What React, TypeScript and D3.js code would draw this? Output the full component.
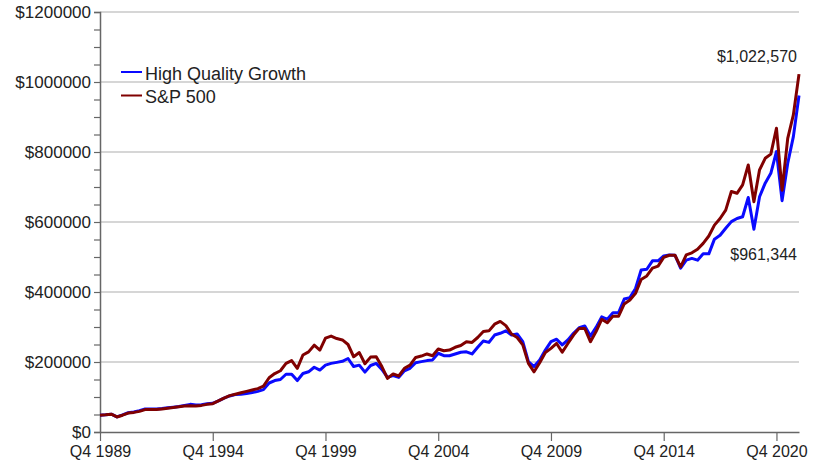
import React, { useEffect, useRef } from "react";
import * as d3 from "d3";

// quarterly portfolio values, Q4 1989 onwards (thousands of $)
const hqGrowth = [
  48, 49, 51, 43, 49, 55, 57, 61, 66, 66, 66, 67, 69, 71, 73, 76, 79, 77, 78, 81,
  82, 89, 97, 103, 107, 108, 110, 113, 116, 121, 140, 147, 150, 165, 165, 147, 167, 172, 185, 177,
  191, 196, 199, 202, 210, 187, 191, 171, 190, 196, 179, 156, 161, 156, 175, 182, 198, 201, 204, 206,
  225, 218, 218, 223, 228, 229, 223, 242, 260, 256, 277, 282, 289, 277, 280, 258, 201, 187, 206, 234,
  258, 265, 249, 263, 282, 298, 303, 274, 299, 329, 322, 341, 341, 380, 384, 410, 463, 465, 489, 489,
  503, 506, 505, 468, 491, 496, 491, 509, 509, 551, 562, 582, 601, 610, 615, 670, 579, 672, 711, 739,
  801, 661, 768, 844, 961.344,
];
const sp500 = [
  48, 49, 51, 43, 48, 54, 56, 59, 64, 64, 64, 66, 68, 70, 72, 74, 75, 74, 76, 79,
  81, 89, 97, 104, 108, 112, 116, 120, 124, 131, 155, 167, 175, 196, 204, 182, 220, 229, 248, 234,
  268, 274, 267, 263, 250, 215, 227, 195, 214, 215, 187, 153, 166, 160, 182, 191, 213, 217, 223, 218,
  237, 232, 234, 242, 247, 258, 256, 270, 287, 289, 308, 316, 304, 280, 270, 249, 196, 172, 198, 227,
  239, 253, 228, 253, 277, 296, 296, 258, 287, 322, 312, 331, 331, 366, 377, 396, 436, 446, 468, 474,
  499, 505, 505, 472, 506, 512, 522, 539, 560, 591, 610, 634, 687, 682, 706, 763, 658, 749, 782, 794,
  868, 691, 839, 906, 1022.57,
];
const tickIndex = [0, 20, 40, 60, 80, 100, 120];
const tickLabels = ["Q4 1989", "Q4 1994", "Q4 1999", "Q4 2004", "Q4 2009", "Q4 2014", "Q4 2020"];
const seriesNames = ["High Quality Growth", "S&P 500"];
const seriesColors = ["#0a0aff", "#800000"];
const endLabels = ["$961,344", "$1,022,570"];

const App = () => {
  const ref = useRef<SVGSVGElement>(null);

  useEffect(() => {
    const svg = d3.select(ref.current);
    svg.selectAll("*").remove();

    const left = 100, right = 799, top = 12, bottom = 432;
    const font = "Arial, 'Liberation Sans', sans-serif";

    const x = d3.scaleLinear().domain([0, sp500.length - 1]).range([left, right]);
    const y = d3.scaleLinear().domain([0, 1200000]).range([bottom, top]);

    // gridlines
    svg
      .append("g")
      .selectAll("line")
      .data(d3.range(200000, 1200001, 200000))
      .enter()
      .append("line")
      .attr("x1", left)
      .attr("x2", right)
      .attr("y1", (d) => y(d))
      .attr("y2", (d) => y(d))
      .attr("stroke", "#c8c8c8")
      .attr("stroke-width", 1.5);

    // y axis
    const yAxis = svg
      .append("g")
      .attr("transform", `translate(${left},0)`)
      .call(
        d3
          .axisLeft(y)
          .tickValues(d3.range(0, 1200001, 50000))
          .tickSize(6)
          .tickPadding(3)
          .tickFormat((d) => ((d as number) % 200000 === 0 ? "$" + d : ""))
      );
    yAxis.select(".domain").attr("stroke", "#666").attr("stroke-width", 1.5);
    yAxis.selectAll(".tick line").attr("stroke", "#666").attr("stroke-width", 1.2);
    yAxis
      .selectAll(".tick text")
      .attr("font-family", font)
      .attr("font-size", "17px")
      .attr("fill", "#222");

    // x axis
    const xAxis = svg
      .append("g")
      .attr("transform", `translate(0,${bottom})`)
      .call(
        d3
          .axisBottom(x)
          .tickValues(tickIndex)
          .tickSize(9)
          .tickSizeOuter(0)
          .tickPadding(5)
          .tickFormat((d, i) => tickLabels[i])
      );
    xAxis.select(".domain").attr("stroke", "#666").attr("stroke-width", 1.5);
    xAxis.selectAll(".tick line").attr("stroke", "#666").attr("stroke-width", 1.2);
    xAxis
      .selectAll(".tick text")
      .attr("font-family", font)
      .attr("font-size", "16px")
      .attr("fill", "#222");

    // lines
    const line = d3
      .line<number>()
      .x((d, i) => x(i))
      .y((d) => y(d * 1000));

    [hqGrowth, sp500].forEach((s, k) => {
      svg
        .append("path")
        .datum(s)
        .attr("d", line)
        .attr("fill", "none")
        .attr("stroke", seriesColors[k])
        .attr("stroke-width", 3)
        .attr("stroke-linejoin", "round");
    });

    // end value labels
    svg
      .append("text")
      .attr("x", 797)
      .attr("y", 260)
      .attr("text-anchor", "end")
      .attr("font-family", font)
      .attr("font-size", "16px")
      .attr("fill", "#222")
      .text(endLabels[0]);
    svg
      .append("text")
      .attr("x", 797)
      .attr("y", 61.5)
      .attr("text-anchor", "end")
      .attr("font-family", font)
      .attr("font-size", "16px")
      .attr("fill", "#222")
      .text(endLabels[1]);

    // legend
    const legend = svg.append("g");
    seriesNames.forEach((name, k) => {
      const ly = 72 + k * 23.5;
      legend
        .append("line")
        .attr("x1", 121)
        .attr("x2", 142)
        .attr("y1", ly)
        .attr("y2", ly)
        .attr("stroke", seriesColors[k])
        .attr("stroke-width", 2);
      legend
        .append("text")
        .attr("x", 145)
        .attr("y", ly + 7.5)
        .attr("font-family", font)
        .attr("font-size", "18px")
        .attr("fill", "#222")
        .text(name);
    });
  });

  return (
    <svg
      ref={ref}
      width={818}
      height={462}
      style={{ position: "absolute", left: 0, top: 0, background: "#fff" }}
    />
  );
};

export default App;
